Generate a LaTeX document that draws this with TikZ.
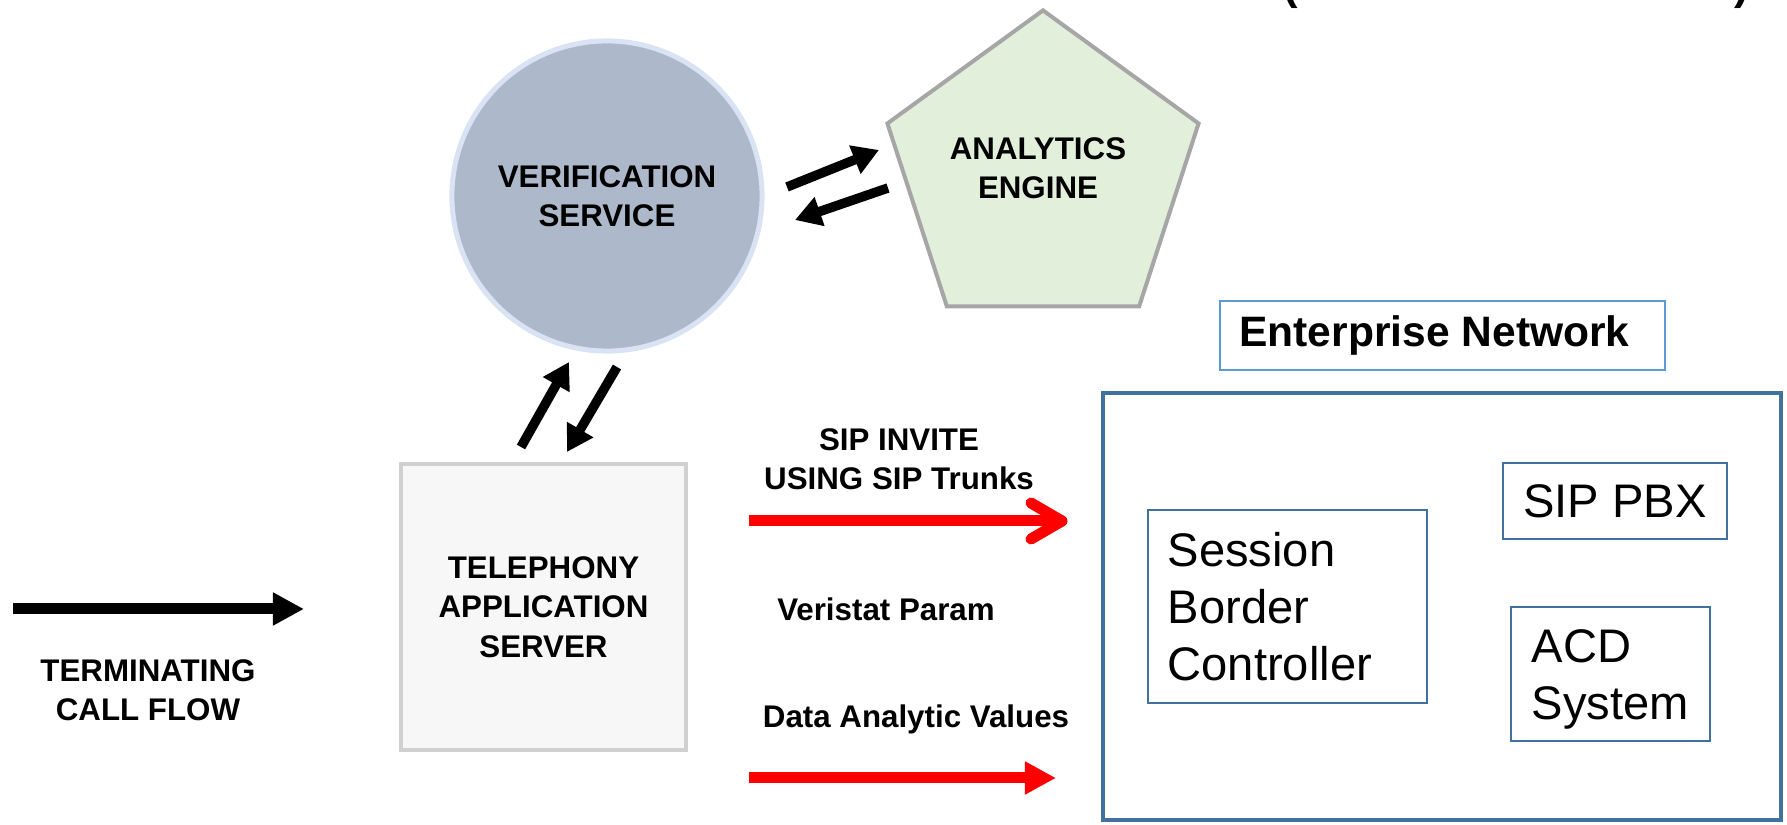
\documentclass[tikz,border=0pt]{standalone}
\usepackage{fontspec}
\setmainfont{Liberation Sans}
\usetikzlibrary{arrows.meta,shapes.geometric}
\definecolor{vsfill}{HTML}{ADB9CA}
\definecolor{vsedge}{HTML}{DAE3F3}
\definecolor{aefill}{HTML}{E2EFDA}
\definecolor{aeedge}{HTML}{A6A6A6}
\definecolor{tsfill}{HTML}{F7F7F7}
\definecolor{tsedge}{HTML}{D0D0D0}
\definecolor{enlabel}{HTML}{5B9BD5}
\definecolor{enedge}{HTML}{41719C}
\definecolor{sipred}{HTML}{FF0000}
\begin{document}
\begin{tikzpicture}[x=0.01cm,y=-0.01cm,
  boldtxt/.style={font=\bfseries\fontsize{8.9}{11.2}\selectfont, align=center, inner sep=0},
  plaintxt/.style={font=\fontsize{13.4}{16.2}\selectfont, align=left, inner sep=0},
  innerbox/.style={draw=enedge, line width=0.02cm, inner sep=0},
  blackarrow/.style={line width=0.095cm, -{Triangle[length=0.26cm,width=0.29cm]}},
  bigarrow/.style={line width=0.11cm, -{Triangle[length=0.31cm,width=0.31cm]}},
  redshaft/.style={draw=sipred, line width=0.11cm},
  redhead/.style={draw=sipred, line width=0.11cm, line cap=round, line join=round}
]
\useasboundingbox (0,0) rectangle (1787,825);

% cut-off heading parentheses
\node[font=\bfseries\fontsize{12.4}{14}\selectfont, anchor=base, inner sep=0] (lparen) at (1291,0) {(};
\node[font=\bfseries\fontsize{12.4}{14}\selectfont, anchor=base, inner sep=0] (rparen) at (1742,0) {)};

% Verification service
\node[circle, fill=vsfill, draw=vsedge, line width=0.05cm, minimum size=3.1cm, inner sep=0,
      boldtxt] (vs) at (607,196) {VERIFICATION\\SERVICE};

% Analytics engine
\node[regular polygon, regular polygon sides=5, fill=aefill, draw=aeedge, line width=0.04cm,
      minimum size=3.27cm, inner sep=0] (ae) at (1043,174) {};
\node[boldtxt] (aetext) at (1038,168.5) {ANALYTICS\\ENGINE};

% arrows between verification and analytics
\coordinate (a1s) at (787,187);
\coordinate (a1e) at (879,150);
\coordinate (a2s) at (888,188);
\coordinate (a2e) at (795,220);
\draw[blackarrow] (a1s) -- (a1e);
\draw[blackarrow] (a2s) -- (a2e);

% Telephony application server
\node[rectangle, fill=tsfill, draw=tsedge, line width=0.04cm, minimum width=2.85cm,
      minimum height=2.86cm, inner sep=0, boldtxt] (tas) at (543.5,607) {TELEPHONY\\APPLICATION\\SERVER};

% arrows between telephony server and verification
\coordinate (ups) at (521,447);
\coordinate (upe) at (569,362);
\coordinate (dns) at (617,367);
\coordinate (dne) at (567,452);
\draw[blackarrow] (ups) -- (upe);
\draw[blackarrow] (dns) -- (dne);

% terminating call flow
\coordinate (tcs) at (13,609);
\coordinate (tce) at (304,609);
\draw[bigarrow] (tcs) -- (tce);
\node[boldtxt] (tctext) at (148,690) {TERMINATING\\CALL FLOW};

% SIP invite arrow
\coordinate (sipTail) at (749,521);
\coordinate (sipTip) at (1062,521);
\coordinate (sipUp) at (1031,503);
\coordinate (sipDn) at (1031,539);
\draw[redshaft] (sipTail) -- (sipTip);
\draw[redhead] (sipUp) -- (sipTip) -- (sipDn);
\node[boldtxt] (siptext) at (899,459.5) {SIP INVITE\\USING SIP Trunks};

\node[boldtxt] (vptext) at (886,609) {Veristat Param};
\node[boldtxt] (datext) at (916,719) {Data Analytic Values};

% data analytic values arrow
\coordinate (das) at (749,778);
\coordinate (dae) at (1056,778);
\draw[bigarrow, draw=sipred, fill=sipred] (das) -- (dae);

% Enterprise network
\node[draw=enlabel, line width=0.015cm, minimum width=4.45cm, minimum height=0.69cm, inner sep=0,
      font=\bfseries\fontsize{12.1}{14}\selectfont] (enlab) at (1442.5,335.5) {Enterprise Network\kern0.16cm};
\node[draw=enedge, line width=0.04cm, minimum width=6.78cm, minimum height=4.27cm, inner sep=0]
      (enbox) at (1442,606.5) {};

\node[innerbox, minimum width=2.79cm, minimum height=1.93cm] (sbc) at (1287.5,606.5) {};
\node[plaintxt, anchor=west] (sbctext) at (1167,607) {Session\\Border\\Controller};

\node[innerbox, minimum width=2.24cm, minimum height=0.76cm, font=\fontsize{13.4}{16.2}\selectfont]
      (pbx) at (1615,501) {SIP PBX};

\node[innerbox, minimum width=1.99cm, minimum height=1.34cm] (acd) at (1610.5,674) {};
\node[plaintxt, anchor=west] (acdtext) at (1531,679.5) {ACD\\System};
\end{tikzpicture}
\end{document}
